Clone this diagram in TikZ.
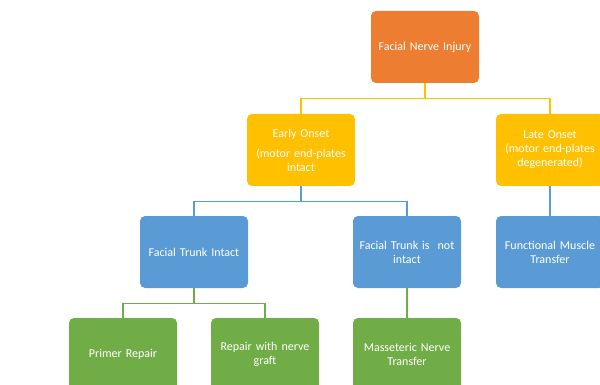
\documentclass[tikz,border=0pt]{standalone}
\usepackage{fontspec}
\setmainfont{Carlito}
\definecolor{cOrange}{HTML}{ED7D31}
\definecolor{cYellow}{HTML}{FFC000}
\definecolor{cBlue}{HTML}{5B9BD5}
\definecolor{cGreen}{HTML}{70AD47}
\tikzset{
  box/.style={rectangle, rounded corners=5pt, minimum width=108pt, minimum height=72pt,
    inner sep=0pt, text width=104pt, align=center, text=white,
    font=\fontsize{12}{14}\selectfont},
  conn/.style={line width=1.3pt}
}
\begin{document}
\begin{tikzpicture}[x=1pt,y=-1pt]
\useasboundingbox (0,0) rectangle (600,385);
\clip (0,0) rectangle (600,385);
\node[box, fill=cOrange] (root) at (425,47) {Facial Nerve Injury};
\node[box, fill=cYellow] (early) at (301,150) {Early Onset\\[6pt](motor end-plates\\intact};
\node[box, fill=cYellow] (late) at (550,150) {Late Onset\\(motor end-plates\\degenerated)};
\node[box, fill=cBlue] (trunk) at (194,252) {Facial Trunk Intact};
\node[box, fill=cBlue] (nottrunk) at (407,252) {Facial Trunk is~ not\\intact};
\node[box, fill=cBlue] (fmt) at (550,252) {Functional Muscle\\Transfer};
\node[box, fill=cGreen] (primer) at (123,354) {Primer Repair};
\node[box, fill=cGreen] (graft) at (265,354) {Repair with nerve\\graft};
\node[box, fill=cGreen] (mass) at (407,354) {Masseteric Nerve\\Transfer};
\draw[conn, cYellow] (root.south) -- ++(0,15) -| (early.north);
\draw[conn, cYellow] (root.south) -- ++(0,15) -| (late.north);
\draw[conn, cBlue] (early.south) -- ++(0,15) -| (trunk.north);
\draw[conn, cBlue] (early.south) -- ++(0,15) -| (nottrunk.north);
\draw[conn, cBlue] (late.south) -- (fmt.north);
\draw[conn, cGreen] (trunk.south) -- ++(0,15) -| (primer.north);
\draw[conn, cGreen] (trunk.south) -- ++(0,15) -| (graft.north);
\draw[conn, cGreen] (nottrunk.south) -- (mass.north);
\end{tikzpicture}
\end{document}
